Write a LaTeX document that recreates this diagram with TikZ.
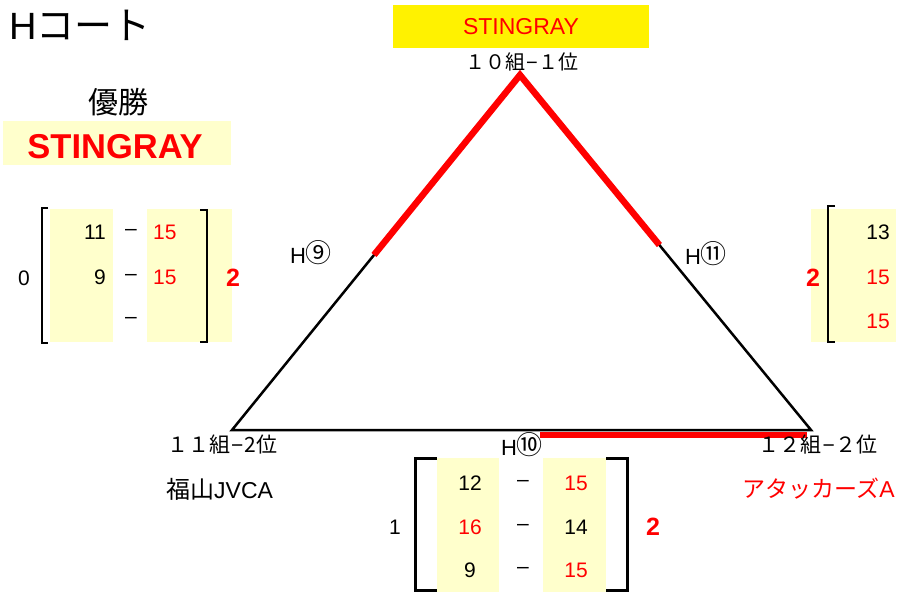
\documentclass[tikz,border=0pt]{standalone}
\usepackage{fontspec}
\setmainfont{Liberation Sans}
\newfontfamily\cjk{Noto Sans CJK JP}
\usetikzlibrary{calc}
\definecolor{lemon}{HTML}{FFFFCC}
\definecolor{pure}{HTML}{FF0000}
\newcommand{\circled}[1]{\raisebox{0.5pt}{\fontsize{26}{26}\selectfont\cjk #1}}
\newcommand{\shortdash}{{\rmfamily\kern1pt−\kern1pt}}
\begin{document}
\begin{tikzpicture}[x=1pt,y=-1pt,
  txt/.style={inner sep=0pt, font=\fontsize{21}{24}\selectfont},
  jtxt/.style={inner sep=0pt, font=\fontsize{21}{24}\selectfont\cjk},
  redtxt/.style={txt, text=pure},
  big2/.style={inner sep=0pt, text=pure, font=\fontsize{25}{27}\selectfont\bfseries},
  edge/.style={line width=2.5pt, black, line join=miter},
  win/.style={line width=6.5pt, pure, line join=miter},
  brk/.style={line width=2pt, black},
  brkb/.style={line width=3pt, black}]
\useasboundingbox (0,0) rectangle (899,592);
% title
\node[inner sep=0pt, anchor=west, font=\fontsize{38}{40}\selectfont] (title) at (9,25) {H{\cjk コート}};
% top winner box
\node[fill=yellow, minimum width=256pt, minimum height=43pt, inner sep=0pt,
      text=pure, font=\fontsize{23}{25}\selectfont] (topwin) at (521,26.5) {STINGRAY};
\node[jtxt, font=\fontsize{20}{22}\selectfont\cjk] (t10) at (522,62) {１０組\shortdash１位};
% champion
\node[jtxt, font=\fontsize{30}{32}\selectfont\cjk] (champ) at (118,102) {優勝};
\node[fill=lemon, minimum width=228pt, minimum height=44pt, inner sep=0pt] (champbox) at (117,143) {};
\node[inner sep=0pt, text=pure, font=\fontsize{34.5}{36}\selectfont\bfseries] (champname) at (115,147) {STINGRAY};
% triangle
\coordinate (A) at (520,75);
\coordinate (B) at (232,430);
\coordinate (C) at (811,430);
\draw[edge] (A) -- (B) -- (C) -- cycle;
\draw[win] ($(A)!0.507!(B)$) -- (A) -- ($(A)!0.479!(C)$);
\coordinate (r1) at (540,435);
\coordinate (r2) at (807,435);
\draw[pure, line width=6pt] (r1) -- (r2);
% match labels
\node[txt, font=\fontsize{22}{24}\selectfont] (h9) at (311,253) {H\circled{⑨}};
\node[txt, font=\fontsize{22}{24}\selectfont] (h11) at (706,254) {H\circled{⑪}};
\node[txt, font=\fontsize{22}{24}\selectfont] (h10) at (522,445) {H\circled{⑩}};
% team labels
\node[jtxt, anchor=west] (t11) at (167,445) {１１組\shortdash2位};
\node[jtxt, anchor=west, font=\fontsize{24}{26}\selectfont\cjk] (fuku) at (166,489) {福山{\rmfamily\fontsize{23}{26}\selectfont JVCA}};
\node[jtxt, anchor=east] (t12) at (878,445) {１２組\shortdash２位};
\node[jtxt, anchor=east, text=pure, font=\fontsize{23}{26}\selectfont\cjk] (atk) at (895,489) {アタッカーズ{\rmfamily A}};
% left score box (H9)
\fill[lemon] (50,209) rectangle (113,342);
\fill[lemon] (147,209) rectangle (232,342);
\draw[brk] (48,208) -- (42,208) -- (42,343) -- (48,343);
\draw[brk] (200,210) -- (207,210) -- (207,342) -- (200,342);
\node[txt] (l0) at (24,278) {0};
\node[big2] (l2) at (233,278) {2};
\node[txt, anchor=east] (la1) at (106,232) {11};
\node[txt, anchor=east] (la2) at (106,277) {9};
\node[txt] (ld1) at (131,232) {–};
\node[txt] (ld2) at (131,277) {–};
\node[txt] (ld3) at (131,320) {–};
\node[redtxt, anchor=west] (lb1) at (153,232) {15};
\node[redtxt, anchor=west] (lb2) at (153,277) {15};
% right score box (H11)
\fill[lemon] (811,209) rectangle (896,342);
\draw[brk] (835,206) -- (828,206) -- (828,342) -- (835,342);
\node[big2] (r2s) at (813,278) {2};
\node[txt, anchor=east] (ra1) at (890,232) {13};
\node[redtxt, anchor=east] (ra2) at (890,277) {15};
\node[redtxt, anchor=east] (ra3) at (890,321) {15};
% bottom score box (H10)
\fill[lemon] (437,458) rectangle (499,592);
\fill[lemon] (543,458) rectangle (606,592);
\draw[brkb] (437,458) -- (415,458) -- (415,590) -- (437,590);
\draw[brkb] (606,458) -- (627,458) -- (627,590) -- (606,590);
\node[txt] (b1) at (395,527) {1};
\node[big2] (b2) at (653,527) {2};
\node[txt] (ba1) at (470,483) {12};
\node[redtxt] (ba2) at (470,527) {16};
\node[txt] (ba3) at (470,570) {9};
\node[txt] (bd1) at (523,483) {–};
\node[txt] (bd2) at (523,527) {–};
\node[txt] (bd3) at (523,570) {–};
\node[redtxt] (bb1) at (576,483) {15};
\node[txt] (bb2) at (576,527) {14};
\node[redtxt] (bb3) at (576,570) {15};
\end{tikzpicture}
\end{document}
